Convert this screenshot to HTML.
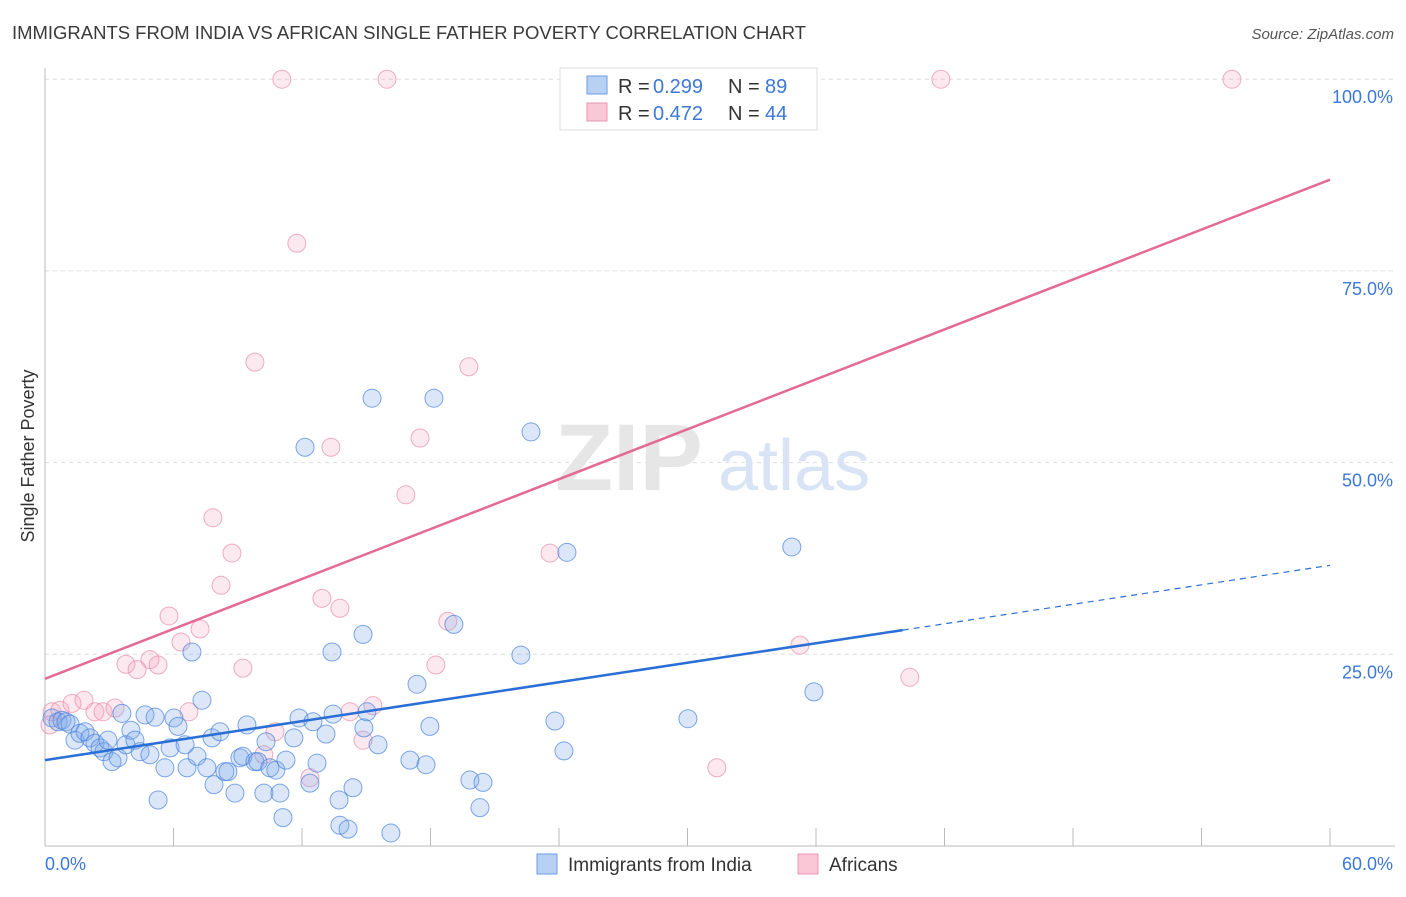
<!DOCTYPE html>
<html><head><meta charset="utf-8"><style>
body{margin:0;background:#fff;font-family:"Liberation Sans",sans-serif;}
svg text{font-family:"Liberation Sans",sans-serif;}
</style></head><body>
<svg id="chart" width="1406" height="892" viewBox="0 0 1406 892" xmlns="http://www.w3.org/2000/svg">
<text x="12" y="39" font-size="18" fill="#3a3a3a" textLength="794" lengthAdjust="spacingAndGlyphs">IMMIGRANTS FROM INDIA VS AFRICAN SINGLE FATHER POVERTY CORRELATION CHART</text>
<text x="1394" y="39" font-size="15" fill="#555" text-anchor="end" font-style="italic">Source: ZipAtlas.com</text>
<g id="grid"></g>
<text x="555" y="490" font-size="95" fill="#e6e6e6" font-family="Liberation Serif" font-weight="bold">ZIP</text>
<text x="718" y="490" font-size="72" fill="#d8e4f5">atlas</text>
<text transform="translate(34,456) rotate(-90)" font-size="18" fill="#333" text-anchor="middle">Single Father Poverty</text>
<g id="points"></g>
<g id="lines"></g>
<g>
<rect x="560" y="68" width="257" height="62" fill="#fff" stroke="#ddd"/>
<rect x="587" y="76" width="20" height="18" fill="#b8d0f3" stroke="#6a9be0"/>
<text x="618" y="93" font-size="20" fill="#333">R =</text>
<text x="653" y="93" font-size="20" fill="#3c78d8">0.299</text>
<text x="728" y="93" font-size="20" fill="#333">N =</text>
<text x="765" y="93" font-size="20" fill="#3c78d8">89</text>
<rect x="587" y="103" width="20" height="18" fill="#f9c7d6" stroke="#ec97b2"/>
<text x="618" y="120" font-size="20" fill="#333">R =</text>
<text x="653" y="120" font-size="20" fill="#3c78d8">0.472</text>
<text x="728" y="120" font-size="20" fill="#333">N =</text>
<text x="765" y="120" font-size="20" fill="#3c78d8">44</text>
</g>
<g>
<rect x="537" y="854" width="20" height="20" fill="#b8d0f3" stroke="#6a9be0"/>
<text x="568" y="871" font-size="19" fill="#333">Immigrants from India</text>
<rect x="798" y="854" width="20" height="20" fill="#f9c7d6" stroke="#ec97b2"/>
<text x="829" y="871" font-size="19" fill="#333">Africans</text>
</g>
</svg>
<script>
const blueX=[0.33,0.61,0.79,0.98,1.17,1.40,1.63,1.87,2.10,2.33,2.57,2.75,2.94,3.13,3.41,3.59,3.78,4.01,4.20,4.44,4.67,4.90,5.14,5.28,5.60,5.84,6.02,6.21,6.54,6.63,6.86,7.10,7.33,7.56,7.80,7.89,8.17,8.40,8.54,8.87,9.10,9.24,9.43,9.80,9.94,10.22,10.32,10.50,10.78,10.97,11.11,11.25,11.62,11.86,12.14,12.37,12.51,12.70,13.12,13.40,13.45,13.73,13.77,14.15,14.38,14.85,14.89,15.03,15.27,15.55,16.15,17.04,17.37,17.79,17.97,18.16,19.09,19.84,20.31,20.45,22.22,22.69,23.81,24.23,24.37,30.02,34.87,35.90];
const blueY=[16.7,16.2,16.4,16.2,15.9,13.8,14.7,14.9,14.1,13.4,12.8,12.3,13.8,11.0,11.5,17.3,13.2,15.1,13.8,12.3,17.1,11.9,16.8,6.0,10.2,12.8,16.7,15.6,13.2,10.2,25.3,11.7,19.0,10.2,14.1,8.0,14.9,9.7,9.7,6.9,11.5,11.7,15.8,11.0,11.0,6.9,13.6,10.2,9.9,6.9,3.7,11.2,14.1,16.7,52.0,8.2,16.2,10.8,14.6,25.3,17.2,6.0,2.7,2.2,7.6,27.6,15.4,17.5,58.4,13.2,1.7,11.2,21.1,10.6,15.6,58.4,28.9,8.6,5.0,8.3,24.9,54.0,16.3,12.4,38.3,16.6,39.0,20.1];
const pinkX=[11.06,15.97,41.83,55.42,11.76,9.80,19.79,17.51,13.35,16.85,7.84,8.73,23.58,8.22,5.79,12.93,13.77,18.81,7.24,6.35,4.90,3.78,4.30,5.28,9.24,18.25,35.25,40.38,0.33,0.70,1.26,1.82,2.33,2.71,3.27,6.72,10.74,10.22,14.24,15.31,14.85,12.37,31.37,0.23];
const pinkY=[100,100,100,100,78.6,63.1,62.5,53.2,52.0,45.8,42.8,38.2,38.2,34.0,30.0,32.3,31.0,29.3,28.3,26.6,24.3,23.7,23.0,23.6,23.2,23.6,26.2,22.0,17.5,17.7,18.6,19.0,17.5,17.5,18.0,17.5,14.9,11.9,17.5,18.3,13.8,8.9,10.2,15.8];
const yTicks=[25,50,75,100];
const yTickLabels=["25.0%","50.0%","75.0%","100.0%"];
const xTickVals=[0,6,12,18,24,30,36,42,48,54,60];
const blueTrend=[11.2,36.6]; const blueSolidEnd=40.05;
const pinkTrend=[21.8,86.9];

const NS="http://www.w3.org/2000/svg";
const X=v=>45+v*21.417, Y=v=>846-v*7.668;
function mk(tag,attrs,parent){const e=document.createElementNS(NS,tag);for(const k in attrs)e.setAttribute(k,attrs[k]);parent.appendChild(e);return e;}
const grid=document.getElementById('grid');
yTicks.forEach((t,i)=>{
  const l=mk('line',{x1:45,x2:1395,y1:Y(t),y2:Y(t),stroke:'#ddd','stroke-dasharray':'4,4'},grid);
  
  
  const tx=mk('text',{x:1393,y:Y(t)+24,'font-size':18,fill:'#3c78d8','text-anchor':'end'},grid);
  tx.textContent=yTickLabels[i];
  
  
});
const ax=mk('line',{x1:45,x2:1395,y1:846,y2:846,stroke:'#bbb'},grid);


const ay=mk('line',{x1:45,x2:45,y1:68,y2:846,stroke:'#bbb'},grid);


xTickVals.forEach(v=>{
  const t=mk('line',{x1:X(v),x2:X(v),y1:828,y2:846,stroke:'#bbb'},grid);
  
  
});
const xl0=mk('text',{x:45,y:870,'font-size':18,fill:'#3c78d8'},grid);xl0.textContent='0.0%';


const xl1=mk('text',{x:1393,y:870,'font-size':18,fill:'#3c78d8','text-anchor':'end'},grid);xl1.textContent='60.0%';


const pts=document.getElementById('points');
pinkX.forEach((x,i)=>{
  const c=mk('circle',{cx:X(x),cy:Y(pinkY[i]),r:9,fill:'rgba(244,165,192,0.25)',stroke:'rgba(230,130,165,0.65)','stroke-width':1},pts);
  
  
});
blueX.forEach((x,i)=>{
  const c=mk('circle',{cx:X(x),cy:Y(blueY[i]),r:9,fill:'rgba(125,170,235,0.28)',stroke:'rgba(70,130,220,0.7)','stroke-width':1},pts);
  
  
});
const ln=document.getElementById('lines');
const by=v=>blueTrend[0]+(blueTrend[1]-blueTrend[0])*v/60;
const b1=mk('line',{x1:X(0),y1:Y(by(0)),x2:X(blueSolidEnd),y2:Y(by(blueSolidEnd)),stroke:'#2a6fd6','stroke-width':2.5},ln);


const b2=mk('line',{x1:X(blueSolidEnd),y1:Y(by(blueSolidEnd)),x2:X(60),y2:Y(by(60)),stroke:'#2a6fd6','stroke-width':1.2,'stroke-dasharray':'6,5'},ln);


const p1=mk('line',{x1:X(0),y1:Y(pinkTrend[0]),x2:X(60),y2:Y(pinkTrend[1]),stroke:'#e46a94','stroke-width':2.5},ln);


</script>
</body></html>
